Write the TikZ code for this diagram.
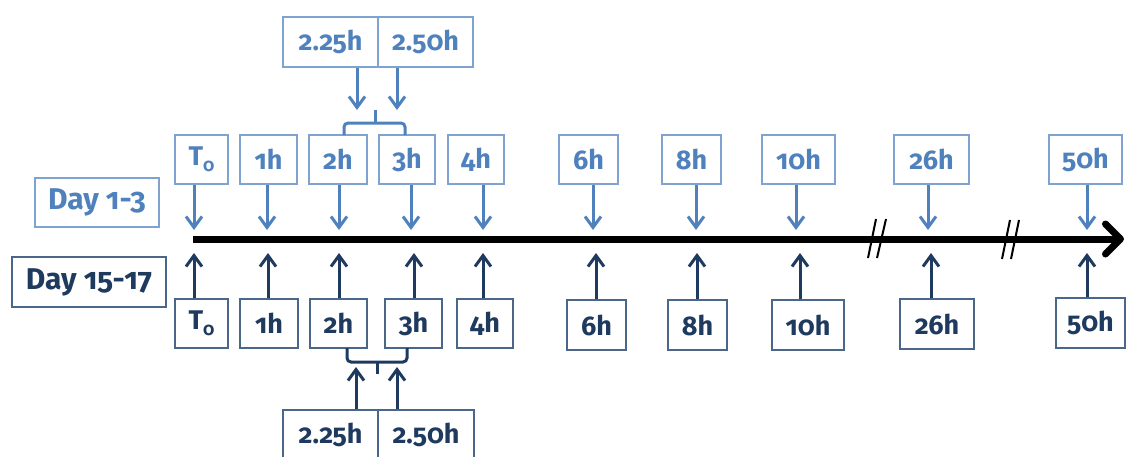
\documentclass[tikz,border=0pt]{standalone}
\usepackage{fontspec}
\setmainfont{Fira Sans}[Numbers=OldStyle]
\usetikzlibrary{arrows.meta}
\definecolor{lightblue}{HTML}{4F81BD}
\definecolor{lightedge}{HTML}{7EA3D1}
\definecolor{navy}{HTML}{1F3A5F}
\definecolor{navyedge}{HTML}{4A6688}
\newcommand{\tzero}{T\raisebox{-6pt}{\fontsize{18}{18}\selectfont 0}}
\tikzset{
  x=1pt, y=-1pt,
  tbox/.style={draw=lightedge, line width=1.2pt, text=lightblue, inner sep=0pt,
    minimum height=49pt, font=\bfseries\fontsize{27}{27}\selectfont},
  bbox/.style={draw=navyedge, line width=1.2pt, text=navy, inner sep=0pt,
    minimum height=49pt, font=\bfseries\fontsize{27}{27}\selectfont},
  daybox/.style={font=\bfseries\fontsize{30}{30}\selectfont},
  tarrow/.style={draw=lightblue, line width=3pt, -{Straight Barb[length=11pt,width=16pt]}},
  barrow/.style={draw=navy, line width=3pt, -{Straight Barb[length=11pt,width=16pt]}},
  tbrace/.style={draw=lightblue, line width=3pt, rounded corners=4pt},
  bbrace/.style={draw=navy, line width=3pt, rounded corners=4pt},
  axis/.style={draw=black, line width=7pt, -{Straight Barb[length=15pt,width=30pt,round]}},
  breakmark/.style={draw=black, line width=2pt}
}
\begin{document}
\begin{tikzpicture}
\useasboundingbox (0,0) rectangle (1127,456);

% time axis
\coordinate (axstart) at (193,239);
\coordinate (axend) at (1124,239);
\draw[axis] (axstart) -- (axend);
\draw[breakmark] (868,258) -- (876,219);
\draw[breakmark] (877,258) -- (886,219);
\draw[breakmark] (1002,259) -- (1010,220);
\draw[breakmark] (1011,259) -- (1019,220);

% day labels
\node[tbox, daybox, minimum width=124pt, minimum height=49pt] (day13) at (97,202.5) {Day 1-3};
\node[bbox, daybox, minimum width=154pt, minimum height=50pt] (day1517) at (89,282) {Day 15-17};

% Day 1-3 sampling times
\node[tbox, minimum width=53pt] (t0) at (201.5,159.5) {\tzero};
\node[tbox, minimum width=57pt] (t1) at (268.5,159.5) {1h};
\node[tbox, minimum width=58pt] (t2) at (338,159.5) {2h};
\node[tbox, minimum width=56pt] (t3) at (407,159.5) {3h};
\node[tbox, minimum width=56pt] (t4) at (476,159.5) {4h};
\node[tbox, minimum width=59pt] (t6) at (588.5,159.5) {6h};
\node[tbox, minimum width=59pt] (t8) at (691.5,159.5) {8h};
\node[tbox, minimum width=73pt] (t10) at (798.5,159.5) {10h};
\node[tbox, minimum width=75pt] (t26) at (931.5,159.5) {26h};
\node[tbox, minimum width=73pt] (t50) at (1085.5,159.5) {50h};
\node[tbox, minimum width=95pt, minimum height=50pt] (t225) at (330.5,42) {2.25h};
\node[tbox, minimum width=95pt, minimum height=50pt] (t250) at (425.5,42) {2.50h};

\foreach \n/\x in {t0/194, t1/267, t2/339, t3/411, t4/483, t6/593, t8/696, t10/796, t26/928, t50/1087} {
  \coordinate (a\n) at (\x,230);
  \draw[tarrow] (\n.south -| a\n) -- (a\n);
}
\coordinate (tbl) at (344,135);
\coordinate (tbr) at (405,135);
\coordinate (tbm) at (375,123);
\draw[tbrace] (tbl) -- (344,123) -- (405,123) -- (tbr);
\draw[tbrace] (tbm) -- (375,110);
\coordinate (tb1) at (357,110);
\coordinate (tb2) at (397,110);
\draw[tarrow] (t225.south -| tb1) -- (tb1);
\draw[tarrow] (t250.south -| tb2) -- (tb2);

% Day 15-17 sampling times
\node[bbox, minimum width=53pt] (b0) at (201.5,323.5) {\tzero};
\node[bbox, minimum width=58pt] (b1) at (269,323.5) {1h};
\node[bbox, minimum width=57pt] (b2) at (338.5,323.5) {2h};
\node[bbox, minimum width=57pt] (b3) at (413.5,323.5) {3h};
\node[bbox, minimum width=56pt] (b4) at (485,323.5) {4h};
\node[bbox, minimum width=59pt, minimum height=50pt] (b6) at (596.5,325) {6h};
\node[bbox, minimum width=59pt, minimum height=50pt] (b8) at (697.5,325) {8h};
\node[bbox, minimum width=72pt, minimum height=50pt] (b10) at (808,325) {10h};
\node[bbox, minimum width=74pt, minimum height=50pt] (b26) at (937,324) {26h};
\node[bbox, minimum width=69pt, minimum height=50pt] (b50) at (1090.5,323) {50h};
\node[bbox, minimum width=95pt, minimum height=50pt] (b225) at (330.5,435) {2.25h};
\node[bbox, minimum width=96pt, minimum height=50pt] (b250) at (426,435) {2.50h};

\foreach \n/\x in {b0/194, b1/268, b2/339, b3/414, b4/483, b6/596, b8/697, b10/800, b26/931, b50/1087} {
  \coordinate (a\n) at (\x,253);
  \draw[barrow] (\n.north -| a\n) -- (a\n);
}
\coordinate (bbl) at (347,348);
\coordinate (bbr) at (407,348);
\coordinate (bbm) at (377,362);
\draw[bbrace] (bbl) -- (347,362) -- (407,362) -- (bbr);
\draw[bbrace] (bbm) -- (377,374);
\coordinate (bb1) at (356,367);
\coordinate (bb2) at (397,367);
\draw[barrow] (b225.north -| bb1) -- (bb1);
\draw[barrow] (b250.north -| bb2) -- (bb2);
\end{tikzpicture}
\end{document}
